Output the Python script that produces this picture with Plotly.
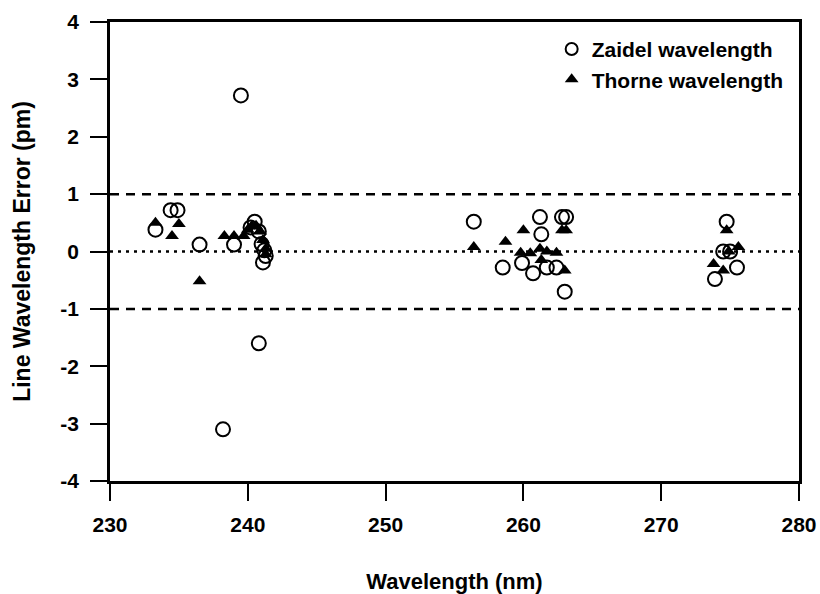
import plotly.graph_objects as go

# Zaidel wavelength (open circles)
zaidel_x = [233.3, 234.4, 234.9, 236.5, 238.2, 239.0, 239.5, 240.2, 240.5, 240.8,
            240.8, 241.0, 241.2, 241.3, 241.1,
            256.4, 258.5, 259.9, 260.7, 261.2, 261.3, 261.7, 262.4, 262.8, 263.1, 263.0,
            274.75, 274.5, 275.0, 275.5, 273.9]
zaidel_y = [0.38, 0.72, 0.72, 0.12, -3.1, 0.12, 2.72, 0.42, 0.52, -1.6,
            0.35, 0.13, 0.02, -0.08, -0.19,
            0.52, -0.28, -0.2, -0.38, 0.6, 0.3, -0.28, -0.28, 0.6, 0.6, -0.7,
            0.52, 0.0, 0.0, -0.28, -0.48]

# Thorne wavelength (filled triangles)
thorne_x = [233.3, 234.5, 235.0, 236.5, 238.3, 239.0, 239.7, 240.0, 240.3, 240.6,
            240.9, 241.1, 241.3, 241.3,
            256.4, 258.7, 260.0, 259.8, 260.5, 261.2, 261.3, 261.7, 262.4, 263.0, 262.8, 263.1,
            274.75, 273.8, 274.5, 274.9, 275.6]
thorne_y = [0.5, 0.27, 0.48, -0.52, 0.27, 0.27, 0.27, 0.38, 0.45, 0.45,
            0.35, 0.2, 0.05, -0.05,
            0.08, 0.17, 0.37, -0.02, -0.03, 0.05, -0.15, 0.0, -0.02, -0.33, 0.37, 0.37,
            0.37, -0.22, -0.33, 0.0, 0.08]

x_ticks = [230, 240, 250, 260, 270, 280]
x_ticktext = ["230", "240", "250", "260", "270", "280"]
y_ticks = [-4, -3, -2, -1, 0, 1, 2, 3, 4]
y_ticktext = ["-4", "-3", "-2", "-1", "0", "1", "2", "3", "4"]
ref_dashed = [-1, 1]
ref_dotted = [0]

FONT = "Liberation Sans, Arial, sans-serif"

fig = go.Figure()
fig.add_trace(go.Scatter(
    x=zaidel_x, y=zaidel_y, mode="markers", name="Zaidel wavelength",
    marker=dict(symbol="circle-open", size=14, color="black", line=dict(width=2, color="black")),
))
fig.add_trace(go.Scatter(
    x=thorne_x, y=thorne_y, mode="markers", name="Thorne wavelength",
    marker=dict(symbol="triangle-up", size=12, color="black", line=dict(width=0)),
))

for v in ref_dashed:
    fig.add_shape(type="line", xref="paper", x0=0, x1=1, yref="y", y0=v, y1=v,
                  line=dict(color="black", width=2.5, dash="9px,7px"), layer="below")
for v in ref_dotted:
    fig.add_shape(type="line", xref="paper", x0=0, x1=1, yref="y", y0=v, y1=v,
                  line=dict(color="black", width=2.5, dash="3px,5px"), layer="below")

fig.update_layout(
    width=820, height=594,
    margin=dict(l=110, r=21, t=22, b=113, autoexpand=False),
    paper_bgcolor="white", plot_bgcolor="white",
    font=dict(family=FONT, size=21, color="black", weight="bold"),
    showlegend=True,
    legend=dict(x=0.985, y=0.985, xanchor="right", yanchor="top",
                bgcolor="rgba(0,0,0,0)", font=dict(size=21, weight="bold"),
                itemsizing="constant", tracegroupgap=0),
)
fig.update_xaxes(
    range=[230, 280], tickvals=x_ticks, ticktext=x_ticktext, ticks="outside",
    ticklen=17, tickwidth=2, tickfont=dict(size=21, weight="bold"), automargin=False,
    tickcolor="black", showline=True, linecolor="black", linewidth=2.5, mirror=True,
    showgrid=False, zeroline=False, ticklabelstandoff=6,
    title=dict(text="Wavelength (nm)", standoff=44, font=dict(size=22, weight="bold")),
)
fig.update_yaxes(
    range=[-4, 4], tickvals=y_ticks, ticktext=y_ticktext, ticks="outside",
    ticklen=17, tickwidth=2, tickfont=dict(size=21, weight="bold"), automargin=False,
    tickcolor="black", showline=True, linecolor="black", linewidth=2.5, mirror=True,
    showgrid=False, zeroline=False, ticklabelstandoff=7,
    title=dict(text="Line Wavelength Error (pm)", standoff=24, font=dict(size=23, weight="bold")),
)

fig.write_html("out.html")
